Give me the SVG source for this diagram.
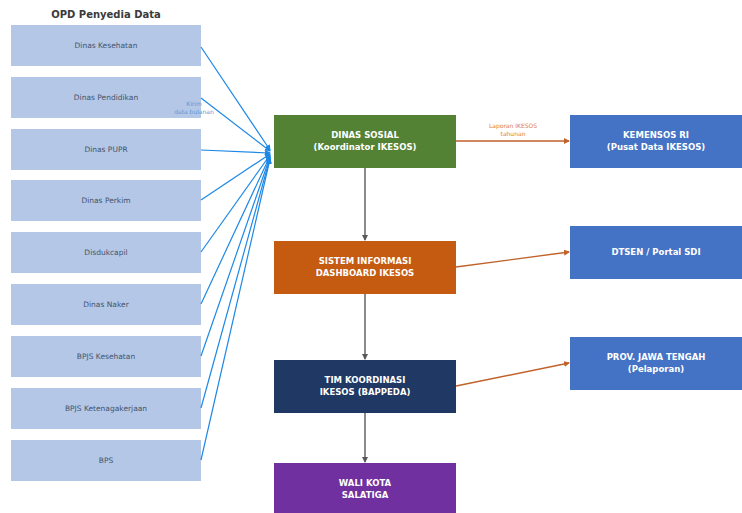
<svg xmlns="http://www.w3.org/2000/svg" width="742" height="513" viewBox="0 0 742 513">
<style>
.src rect{fill:#b4c7e7;}
.src text{font-family:"DejaVu Sans",sans-serif;font-size:7.5px;fill:#44546a;text-anchor:middle;}
.nd text{font-family:"DejaVu Sans",sans-serif;font-size:8.5px;font-weight:bold;fill:#ffffff;text-anchor:middle;}
.title{font-family:"DejaVu Sans",sans-serif;font-size:10px;font-weight:bold;fill:#3a3a3a;text-anchor:middle;}
.blue{stroke:#1e88e5;stroke-width:1.2;fill:none;marker-end:url(#ab);}
.grey{stroke:#595959;stroke-width:1.4;fill:none;marker-end:url(#ag);}
.org{stroke:#c0622a;stroke-width:1.4;fill:none;marker-end:url(#ao);}
.lbl{font-family:"DejaVu Sans",sans-serif;font-size:6px;text-anchor:middle;}
</style>
<defs>
<marker id="ab" markerWidth="6" markerHeight="6" refX="5" refY="3" orient="auto" markerUnits="userSpaceOnUse"><path d="M0,0 L6,3 L0,6 z" fill="#1e88e5"/></marker>
<marker id="ag" markerWidth="6" markerHeight="6" refX="5" refY="3" orient="auto" markerUnits="userSpaceOnUse"><path d="M0,0 L6,3 L0,6 z" fill="#595959"/></marker>
<marker id="ao" markerWidth="6" markerHeight="6" refX="5" refY="3" orient="auto" markerUnits="userSpaceOnUse"><path d="M0,0 L6,3 L0,6 z" fill="#c0622a"/></marker>
</defs>
<rect width="742" height="513" fill="#ffffff"/>
<text class="title" x="106" y="18">OPD Penyedia Data</text>
<g class="src">
<g id="src1"><rect x="11" y="25" width="190" height="41"/><text x="106" y="48">Dinas Kesehatan</text></g>
<g id="src2"><rect x="11" y="77" width="190" height="41"/><text x="106" y="100">Dinas Pendidikan</text></g>
<g id="src3"><rect x="11" y="129" width="190" height="41"/><text x="106" y="152">Dinas PUPR</text></g>
<g id="src4"><rect x="11" y="180" width="190" height="41"/><text x="106" y="203">Dinas Perkim</text></g>
<g id="src5"><rect x="11" y="232" width="190" height="41"/><text x="106" y="255">Disdukcapil</text></g>
<g id="src6"><rect x="11" y="284" width="190" height="41"/><text x="106" y="307">Dinas Naker</text></g>
<g id="src7"><rect x="11" y="336" width="190" height="41"/><text x="106" y="359">BPJS Kesehatan</text></g>
<g id="src8"><rect x="11" y="388" width="190" height="41"/><text x="106" y="411">BPJS Ketenagakerjaan</text></g>
<g id="src9"><rect x="11" y="440" width="190" height="41"/><text x="106" y="463">BPS</text></g>
</g>
<g class="nd">
<g id="dinsos"><rect x="274" y="115" width="182" height="53" fill="#548235"/><text x="365" y="138">DINAS SOSIAL</text><text x="365" y="150">(Koordinator IKESOS)</text></g>
<g id="sistem"><rect x="274" y="241" width="182" height="53" fill="#c55a11"/><text x="365" y="264">SISTEM INFORMASI</text><text x="365" y="276">DASHBOARD IKESOS</text></g>
<g id="tim"><rect x="274" y="360" width="182" height="53" fill="#1f3864"/><text x="365" y="383">TIM KOORDINASI</text><text x="365" y="395">IKESOS (BAPPEDA)</text></g>
<g id="wali"><rect x="274" y="463" width="182" height="50" fill="#7030a0"/><text x="365" y="486">WALI KOTA</text><text x="365" y="498">SALATIGA</text></g>
<g id="kemensos"><rect x="570" y="115" width="172" height="53" fill="#4472c4"/><text x="656" y="138">KEMENSOS RI</text><text x="656" y="150">(Pusat Data IKESOS)</text></g>
<g id="dtsen"><rect x="570" y="226" width="172" height="53" fill="#4472c4"/><text x="656" y="255">DTSEN / Portal SDI</text></g>
<g id="prov"><rect x="570" y="337" width="172" height="53" fill="#4472c4"/><text x="656" y="360">PROV. JAWA TENGAH</text><text x="656" y="372">(Pelaporan)</text></g>
</g>
<g id="connectors">
<path class="blue" d="M201,47 L270,150"/>
<path class="blue" d="M201,98 L270,151"/>
<path class="blue" d="M201,150 L270,153"/>
<path class="blue" d="M201,200 L270,154"/>
<path class="blue" d="M201,252 L270,155"/>
<path class="blue" d="M201,304 L270,156"/>
<path class="blue" d="M201,356 L270,157"/>
<path class="blue" d="M201,408 L270,158"/>
<path class="blue" d="M201,460 L270,159"/>
<path class="grey" d="M365,168 L365,240"/>
<path class="grey" d="M365,294 L365,359"/>
<path class="grey" d="M365,413 L365,462"/>
<path class="org" d="M456,141 L569,141"/>
<path class="org" d="M456,267 L569,252"/>
<path class="org" d="M456,386 L569,363"/>
<text class="lbl" x="194" y="106" fill="#5b9bd5">Kirim</text>
<text class="lbl" x="194" y="114" fill="#5b9bd5">data bulanan</text>
<text class="lbl" x="513" y="128" fill="#e07b39">Laporan IKESOS</text>
<text class="lbl" x="513" y="136" fill="#e07b39">tahunan</text>
</g>
</svg>
